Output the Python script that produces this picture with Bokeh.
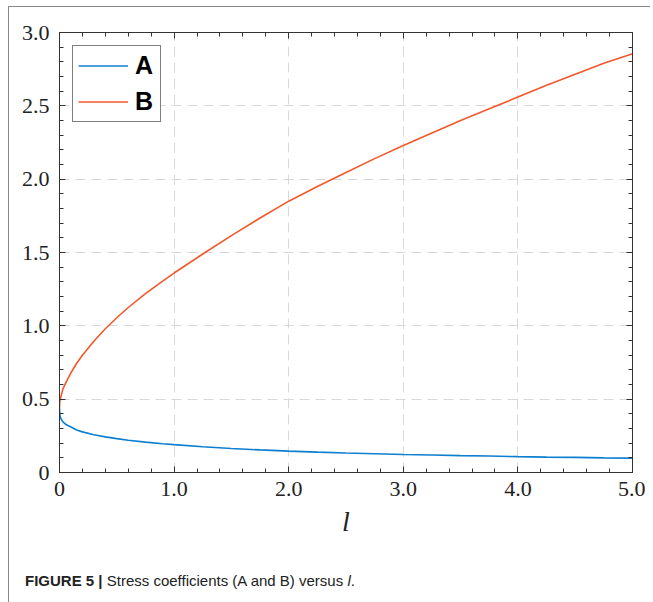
from bokeh.plotting import figure
from bokeh.models import (LinearAxis, Range1d, FixedTicker, Div, Legend, LegendItem,
                          CustomJSTickFormatter)
from bokeh.layouts import column
from bokeh.embed import file_html
from bokeh.resources import INLINE

# ---- data ----
l_vals = [0.0, 0.002, 0.01, 0.03, 0.06, 0.1, 0.15, 0.2, 0.3, 0.4, 0.5, 0.6, 0.75, 0.9, 1.0,
          1.25, 1.5, 1.75, 2.0, 2.25, 2.5, 2.75, 3.0, 3.25, 3.5, 3.75, 4.0, 4.25, 4.5, 4.75, 5.0]
A_vals = [0.44, 0.40, 0.37, 0.345, 0.325, 0.31, 0.29, 0.277, 0.257, 0.243, 0.231, 0.220, 0.207,
          0.196, 0.190, 0.176, 0.164, 0.154, 0.146, 0.139, 0.133, 0.128, 0.123, 0.119, 0.115,
          0.112, 0.108, 0.105, 0.103, 0.100, 0.098]
B_vals = [0.44, 0.48, 0.51, 0.57, 0.62, 0.68, 0.745, 0.80, 0.895, 0.98, 1.055, 1.125, 1.22,
          1.305, 1.36, 1.49, 1.615, 1.735, 1.85, 1.95, 2.045, 2.14, 2.23, 2.315, 2.40, 2.48,
          2.56, 2.64, 2.715, 2.79, 2.855]

x_ticks = [0, 1, 2, 3, 4, 5]
x_tick_labels = ["0", "1.0", "2.0", "3.0", "4.0", "5.0"]
y_ticks = [0, 0.5, 1.0, 1.5, 2.0, 2.5, 3.0]
y_tick_labels = ["0", "0.5", "1.0", "1.5", "2.0", "2.5", "3.0"]
x_minor = [i * 0.2 for i in range(26)]
y_minor = [i * 0.1 for i in range(31)]

BLUE = "#0C7FD0"
RED = "#F4582A"
SERIF = "Liberation Serif"
SANS = "Liberation Sans"

p = figure(width=636, height=537, output_backend="svg", toolbar_location=None,
           x_range=Range1d(0, 5), y_range=Range1d(0, 3),
           min_border_left=50, min_border_right=13, min_border_top=25, min_border_bottom=72,
           x_axis_location=None, y_axis_location=None)
p.outline_line_color = None
p.background_fill_color = "white"
p.border_fill_color = "white"

def style_axis(ax, ticks, labels, minor, show_labels):
    ax.ticker = FixedTicker(ticks=ticks, minor_ticks=minor)
    ax.axis_line_color = "#333333"
    ax.axis_line_width = 1
    ax.major_tick_line_color = "#333333"
    ax.minor_tick_line_color = "#333333"
    ax.major_tick_in = 6
    ax.major_tick_out = 0
    ax.minor_tick_in = 4
    ax.minor_tick_out = 0
    if show_labels:
        ax.major_label_overrides = {t: s for t, s in zip(ticks, labels)}
        ax.major_label_text_font = SERIF
        ax.major_label_text_font_size = "22px"
        ax.major_label_text_color = "#222222"
        ax.major_label_standoff = 10
    else:
        ax.formatter = CustomJSTickFormatter(code="return '';")
        ax.major_label_standoff = 0
        ax.major_label_text_font_size = "1px"

xb = LinearAxis(axis_label="l")
style_axis(xb, x_ticks, x_tick_labels, x_minor, True)
xb.major_label_standoff = 9
xb.axis_label_text_font = SERIF
xb.axis_label_text_font_style = "italic"
xb.axis_label_text_font_size = "28px"
xb.axis_label_text_color = "#222222"
xb.axis_label_standoff = 7
p.add_layout(xb, "below")

yl = LinearAxis()
style_axis(yl, y_ticks, y_tick_labels, y_minor, True)
p.add_layout(yl, "left")

xt = LinearAxis()
style_axis(xt, x_ticks, x_tick_labels, x_minor, False)
p.add_layout(xt, "above")

yr = LinearAxis()
style_axis(yr, y_ticks, y_tick_labels, y_minor, False)
p.add_layout(yr, "right")

p.xgrid.ticker = FixedTicker(ticks=x_ticks)
p.ygrid.ticker = FixedTicker(ticks=y_ticks)
for g in (p.xgrid, p.ygrid):
    g.grid_line_color = "#d8d8d8"
    g.grid_line_dash = "10 6"
    g.grid_line_width = 1

ra = p.line(l_vals, A_vals, line_color=BLUE, line_width=1.6)
rb = p.line(l_vals, B_vals, line_color=RED, line_width=1.6)

legend = Legend(items=[LegendItem(label="A", renderers=[ra]),
                       LegendItem(label="B", renderers=[rb])],
                location="top_left")
legend.margin = 13
legend.padding = 5
legend.spacing = 7
legend.label_height = 27
legend.glyph_height = 27
legend.glyph_width = 50
legend.label_standoff = 7
legend.label_text_font = SANS
legend.label_text_font_style = "bold"
legend.label_text_font_size = "25px"
legend.label_text_color = "#000000"
legend.border_line_color = "#000000"
legend.border_line_width = 1
legend.background_fill_alpha = 1
p.add_layout(legend)

caption = Div(
    text=('<span style="font-weight:bold">FIGURE 5 |</span> Stress coefficients '
          '(A and B) versus <i>l</i>.'),
    width=620, height=50,
    styles={"font-family": "Liberation Sans, Arial, sans-serif", "font-size": "15px",
            "color": "#222222", "padding-top": "21px", "margin-left": "16px"})

layout = column(p, caption, styles={"border-top": "1px solid #888888",
                                    "border-left": "1px solid #888888",
                                    "margin-left": "8px", "margin-top": "6px"})

open("out.html", "w").write(file_html(layout, INLINE))
